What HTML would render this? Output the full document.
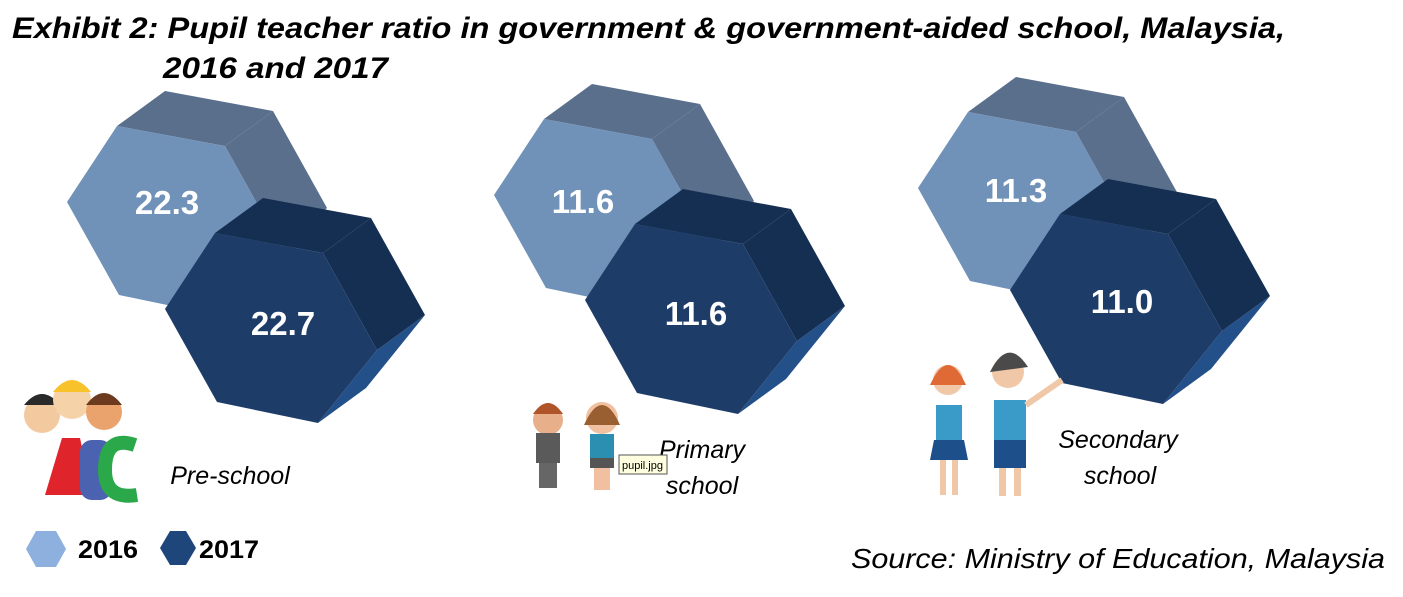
<!DOCTYPE html>
<html><head><style>
body{margin:0;background:#fff;width:1403px;height:597px;overflow:hidden;font-family:"Liberation Sans",sans-serif}
svg{position:absolute;left:0;top:0}
</style></head><body>
<svg id="s" width="1403" height="597" xmlns="http://www.w3.org/2000/svg">
<g id="hex"></g>
<g font-family="Liberation Sans, sans-serif">
<text x="12" y="38" font-size="30" font-weight="bold" font-style="italic" textLength="1273" lengthAdjust="spacingAndGlyphs">Exhibit 2: Pupil teacher ratio in government &amp; government-aided school, Malaysia,</text>
<text x="163" y="78" font-size="30" font-weight="bold" font-style="italic" textLength="225" lengthAdjust="spacingAndGlyphs">2016 and 2017</text>
<g fill="#fff" font-size="33" font-weight="bold" text-anchor="middle">
<text x="167" y="214">22.3</text><text x="283" y="335">22.7</text>
<text x="583" y="213">11.6</text><text x="696" y="325">11.6</text>
<text x="1016" y="202">11.3</text><text x="1122" y="313">11.0</text>
</g>
<g font-size="25" font-style="italic" text-anchor="middle">
<text x="230" y="484">Pre-school</text>
<text x="702" y="458">Primary</text><text x="702" y="494">school</text>
<text x="1118" y="448">Secondary</text><text x="1120" y="484">school</text>
</g>
<g font-size="25" font-weight="bold"><text x="78" y="558" textLength="60" lengthAdjust="spacingAndGlyphs">2016</text><text x="199" y="558" textLength="60" lengthAdjust="spacingAndGlyphs">2017</text></g>
<text x="1385" y="568" font-size="28" font-style="italic" text-anchor="end" font-family="Liberation Sans, sans-serif" textLength="534" lengthAdjust="spacingAndGlyphs">Source: Ministry of Education, Malaysia</text>
</g>
<polygon points="26,549 36,531 56,531 66,549 56,567 36,567" fill="#8db0df"/>
<polygon points="160,548 170,531 186,531 196,548 186,565 170,565" fill="#1f467a"/>
<g>
<circle cx="42" cy="415" r="18" fill="#f3c9a0"/><path d="M24 405 q18 -22 36 0" fill="#2a2a2a"/>
<circle cx="72" cy="400" r="19" fill="#f6d2a8"/><path d="M53 392 q19 -24 38 0" fill="#f7c22a"/>
<circle cx="104" cy="412" r="18" fill="#eaa36d"/><path d="M86 405 q18 -24 36 0" fill="#6b3a1f"/>
<path d="M45 495 L62 438 L80 438 L92 495 Z" fill="#e0242c"/>
<rect x="80" y="440" width="32" height="60" rx="12" fill="#4a62b0"/>
<path d="M135 445 q-30 -10 -30 25 q0 30 32 25" stroke="#2aa84a" stroke-width="14" fill="none"/>
</g>
<g>
<circle cx="548" cy="420" r="15" fill="#e8b08a"/><path d="M533 414 q15 -22 30 0" fill="#b0552a"/>
<rect x="536" y="433" width="24" height="30" fill="#5a5a5a"/><rect x="539" y="463" width="18" height="25" fill="#666"/>
<circle cx="602" cy="418" r="16" fill="#f0c0a0"/><path d="M584 425 q18 -40 36 0" fill="#9a5f30"/>
<rect x="590" y="434" width="24" height="26" fill="#2a8fb0"/><rect x="590" y="458" width="24" height="10" fill="#555"/>
<rect x="594" y="468" width="16" height="22" fill="#f0c0a0"/>
<rect x="619" y="455" width="48" height="19" fill="#ffffe0" stroke="#555"/><text x="622" y="469" font-size="11" font-family="Liberation Sans, sans-serif">pupil.jpg</text>
</g>
<g>
<circle cx="948" cy="380" r="15" fill="#f0c8a8"/><path d="M930 385 q18 -40 36 0" fill="#e06a35"/>
<rect x="936" y="405" width="26" height="35" fill="#3a9ac8"/><path d="M934 440 h30 l4 20 h-38z" fill="#1d4f8a"/>
<rect x="940" y="460" width="6" height="35" fill="#f0c8a8"/><rect x="952" y="460" width="6" height="35" fill="#f0c8a8"/>
<circle cx="1008" cy="372" r="16" fill="#f0c8a8"/><path d="M990 372 q18 -36 38 -5" fill="#4a4a4a"/>
<rect x="994" y="400" width="32" height="48" fill="#3a9ac8"/><rect x="994" y="440" width="32" height="28" fill="#1d4f8a"/>
<rect x="999" y="468" width="7" height="28" fill="#f0c8a8"/><rect x="1014" y="468" width="7" height="28" fill="#f0c8a8"/>
<path d="M1026 405 L1062 380" stroke="#f0c8a8" stroke-width="6"/>
</g>
</svg>
<script>
var g=document.getElementById('hex'),NS='http://www.w3.org/2000/svg';
var F=[[0,0],[50,-76],[158,-56],[212,41],[153,114],[52,93]],d=[48,-35];
function poly(pts,c){var p=document.createElementNS(NS,'polygon');p.setAttribute('points',pts.map(function(q){return q[0]+','+q[1]}).join(' '));p.setAttribute('fill',c);g.appendChild(p);}
function hex(x,y,front,top,side,edge){
 var f=F.map(function(q){return [x+q[0],y+q[1]]});
 var b=f.map(function(q){return [q[0]+d[0],q[1]+d[1]]});
 poly([f[3],f[4],b[4],b[3]],edge);
 poly([f[1],f[2],b[2],b[1]],top);
 poly([f[2],f[3],b[3],b[2]],side);
 poly(f,front);
}
[[67,202],[494,195],[918,188]].forEach(function(p){hex(p[0],p[1],'#7091b8','#5a6f8c','#5a6f8c','#7a9ac8');});
[[165,309],[585,300],[1010,290]].forEach(function(p){hex(p[0],p[1],'#1d3c68','#152f52','#152f52','#24508a');});
</script>
</body></html>
